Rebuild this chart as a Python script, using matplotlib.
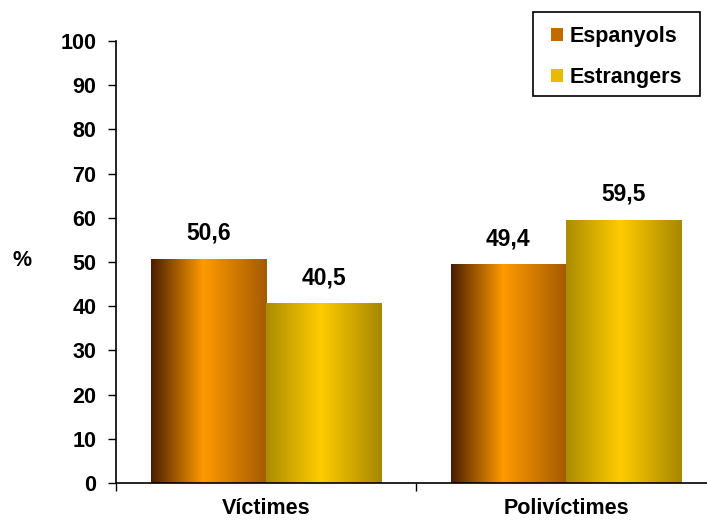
import numpy as np
import matplotlib.pyplot as plt
from matplotlib.colors import LinearSegmentedColormap
from matplotlib.patches import Patch, Rectangle

plt.rcParams['font.family'] = ['Liberation Sans', 'DejaVu Sans']
plt.rcParams['font.weight'] = 'bold'

categories = ["Víctimes", "Polivíctimes"]
series = ["Espanyols", "Estrangers"]
espanyols = [50.6, 49.4]
estrangers = [40.5, 59.5]
labels_esp = ["50,6", "49,4"]
labels_est = ["40,5", "59,5"]

# shaded fills, dark edge -> bright band -> dark edge
cmap_esp = LinearSegmentedColormap.from_list(
    "esp", [(0, "#4a1e00"), (0.45, "#ff9a00"), (1, "#a45a00")])
cmap_est = LinearSegmentedColormap.from_list(
    "est", [(0, "#ab8c00"), (0.47, "#ffcc00"), (1, "#a68700")])

fig = plt.figure(figsize=(7.07, 5.2), dpi=100)
ax = fig.add_axes([116 / 707, (520 - 483) / 520, 600 / 707, 442 / 520])

w = 0.385
grad = np.linspace(0, 1, 256).reshape(1, -1)
x = np.arange(len(categories))


def shaded_bar(xc, h, cmap):
    ax.imshow(grad, cmap=cmap, aspect="auto", extent=[xc - w / 2, xc + w / 2, 0, h],
              zorder=2, interpolation="bicubic")


for i in x:
    shaded_bar(i - w / 2, espanyols[i], cmap_esp)
    shaded_bar(i + w / 2, estrangers[i], cmap_est)
    ax.text(i - w / 2, espanyols[i] + 4.4, labels_esp[i], ha="center", va="baseline",
            fontsize=16.5, fontweight="bold")
    ax.text(i + w / 2, estrangers[i] + 4.4, labels_est[i], ha="center", va="baseline",
            fontsize=16.5, fontweight="bold")

ax.set_xlim(-0.5, 1.5)
ax.set_ylim(0, 100)
ax.set_yticks(range(0, 101, 10))
ax.tick_params(axis="y", labelsize=15.5, length=6, width=1, pad=8)
ax.set_xticks(x)
ax.set_xticklabels(categories, fontsize=15.5, fontweight="bold")
ax.tick_params(axis="x", length=0, pad=11)
ax.set_xticks([-0.5, 0.5, 1.5], minor=True)
ax.tick_params(axis="x", which="minor", length=6, width=1)
for s in ["top", "right"]:
    ax.spines[s].set_visible(False)
ax.spines["left"].set_linewidth(1.2)
ax.spines["bottom"].set_linewidth(1.2)

fig.text(22 / 707, 1 - 261 / 520, "%", fontsize=15.5, fontweight="bold",
         ha="center", va="center")

# legend entries without frame, box drawn separately for wider side padding
handles = [Patch(facecolor="#c06a00", edgecolor="none"),
           Patch(facecolor="#e8bb00", edgecolor="none")]
leg = fig.legend(handles, series, loc="upper left", bbox_to_anchor=(551 / 707, 1 - 26 / 520),
                 frameon=False, fontsize=15.5,
                 handlelength=0.55, handleheight=0.55, handletextpad=0.3,
                 labelspacing=0.95, borderpad=0, borderaxespad=0)
for t in leg.get_texts():
    t.set_fontweight("bold")
fig.patches.append(Rectangle((533 / 707, 1 - 96 / 520), 167 / 707, 84 / 520,
                             transform=fig.transFigure, fill=False,
                             edgecolor="black", linewidth=1.2))

fig.savefig("out.png", dpi=100)
